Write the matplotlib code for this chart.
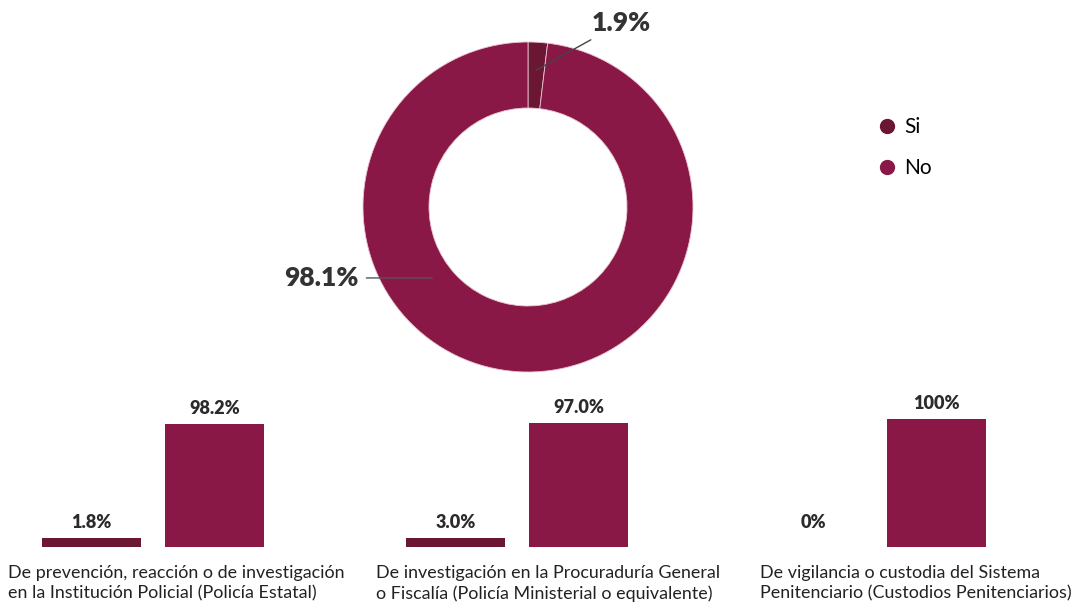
import matplotlib
matplotlib.use("Agg")
import matplotlib.pyplot as plt
from matplotlib.lines import Line2D
import numpy as np

plt.rcParams['font.family'] = ['Lato', 'DejaVu Sans']

# ---- data ----
donut_labels = ["Si", "No"]
donut_values = [1.9, 98.1]
colors = ["#6B1633", "#8A1846"]

categories = [
    "De prevención, reacción o de investigación\nen la Institución Policial (Policía Estatal)",
    "De investigación en la Procuraduría General\no Fiscalía (Policía Ministerial o equivalente)",
    "De vigilancia o custodia del Sistema\nPenitenciario (Custodios Penitenciarios)",
]
si_values = [1.8, 3.0, 0.0]
no_values = [98.2, 97.0, 100.0]
si_labels = ["1.8%", "3.0%", "0%"]
no_labels = ["98.2%", "97.0%", "100%"]

W, H = 1080, 604
fig = plt.figure(figsize=(W / 100, H / 100), dpi=100)
fig.patch.set_facecolor("white")

def px_axes(x0, y0, w, h):
    return fig.add_axes([x0 / W, 1 - (y0 + h) / H, w / W, h / H])

# ---- donut ----
cx, cy, R = 528, 207, 165
ax = px_axes(cx - R, cy - R, 2 * R, 2 * R)
wedges, _ = ax.pie(donut_values, colors=colors, startangle=90, counterclock=False,
                   radius=1.0,
                   wedgeprops=dict(width=0.4, edgecolor="#e8c4d2", linewidth=0.6))
ax.set_xlim(-1, 1)
ax.set_ylim(-1, 1)
ax.set_aspect("equal")
ax.axis("off")

# label for Si
ang = np.deg2rad(90 - donut_values[0] / sum(donut_values) * 360 / 2)
ax.annotate(f"{donut_values[0]}%", xy=(0.8 * np.cos(ang), 0.83 * np.sin(ang)),
            xytext=(0.385, 1.115), textcoords="data",
            ha="left", va="center", fontsize=19, fontweight="heavy", color="#333333",
            arrowprops=dict(arrowstyle="-", color="#444444", lw=1, shrinkA=3, shrinkB=0),
            annotation_clip=False)
# label for No
ax.annotate(f"{donut_values[1]}%", xy=(-0.58, -0.43), xytext=(-1.03, -0.43),
            textcoords="data", ha="right", va="center", fontsize=19,
            fontweight="heavy", color="#333333",
            arrowprops=dict(arrowstyle="-", color="#555555", lw=1, shrinkA=4, shrinkB=0),
            annotation_clip=False)

# legend
handles = [Line2D([0], [0], marker="o", linestyle="none", markersize=10,
                  markerfacecolor=c, markeredgecolor=c) for c in colors]
fig.legend(handles, donut_labels, loc="upper left",
           bbox_to_anchor=(877 / W, 1 - 117 / H), frameon=False,
           fontsize=15, handletextpad=0.3, labelspacing=1.0,
           handlelength=1.0, borderpad=0, borderaxespad=0)

# ---- bottom bars ----
panel_left = [30, 394, 752]
text_left = [8, 376, 760]
ytops = [111.8, 109.4, 109.4]
min_h = 7.0
base_y = 547
ax_h = 140
for i in range(3):
    bax = px_axes(panel_left[i], base_y - ax_h, 246, ax_h)
    vals = [si_values[i], no_values[i]]
    disp = [max(v, min_h) if v > 0 else 0 for v in vals]
    bax.bar([0, 1], disp, width=0.8, color=colors)
    for xpos, v, lab in zip([0, 1], vals, [si_labels[i], no_labels[i]]):
        ytxt = max(v, min_h)
        bax.annotate(lab, xy=(xpos, ytxt), xytext=(0, 5), textcoords="offset points",
                     ha="center", va="bottom", fontsize=13, fontweight="heavy",
                     color="#2b2b2b", annotation_clip=False)
    bax.set_xlim(-0.5, 1.5)
    bax.set_ylim(0, ytops[i])
    bax.axis("off")
    fig.text(text_left[i] / W, 1 - 565 / H, categories[i], ha="left", va="top",
             fontsize=12.9, color="#222222", linespacing=1.32)

fig.savefig("out.png", dpi=100, facecolor="white")
